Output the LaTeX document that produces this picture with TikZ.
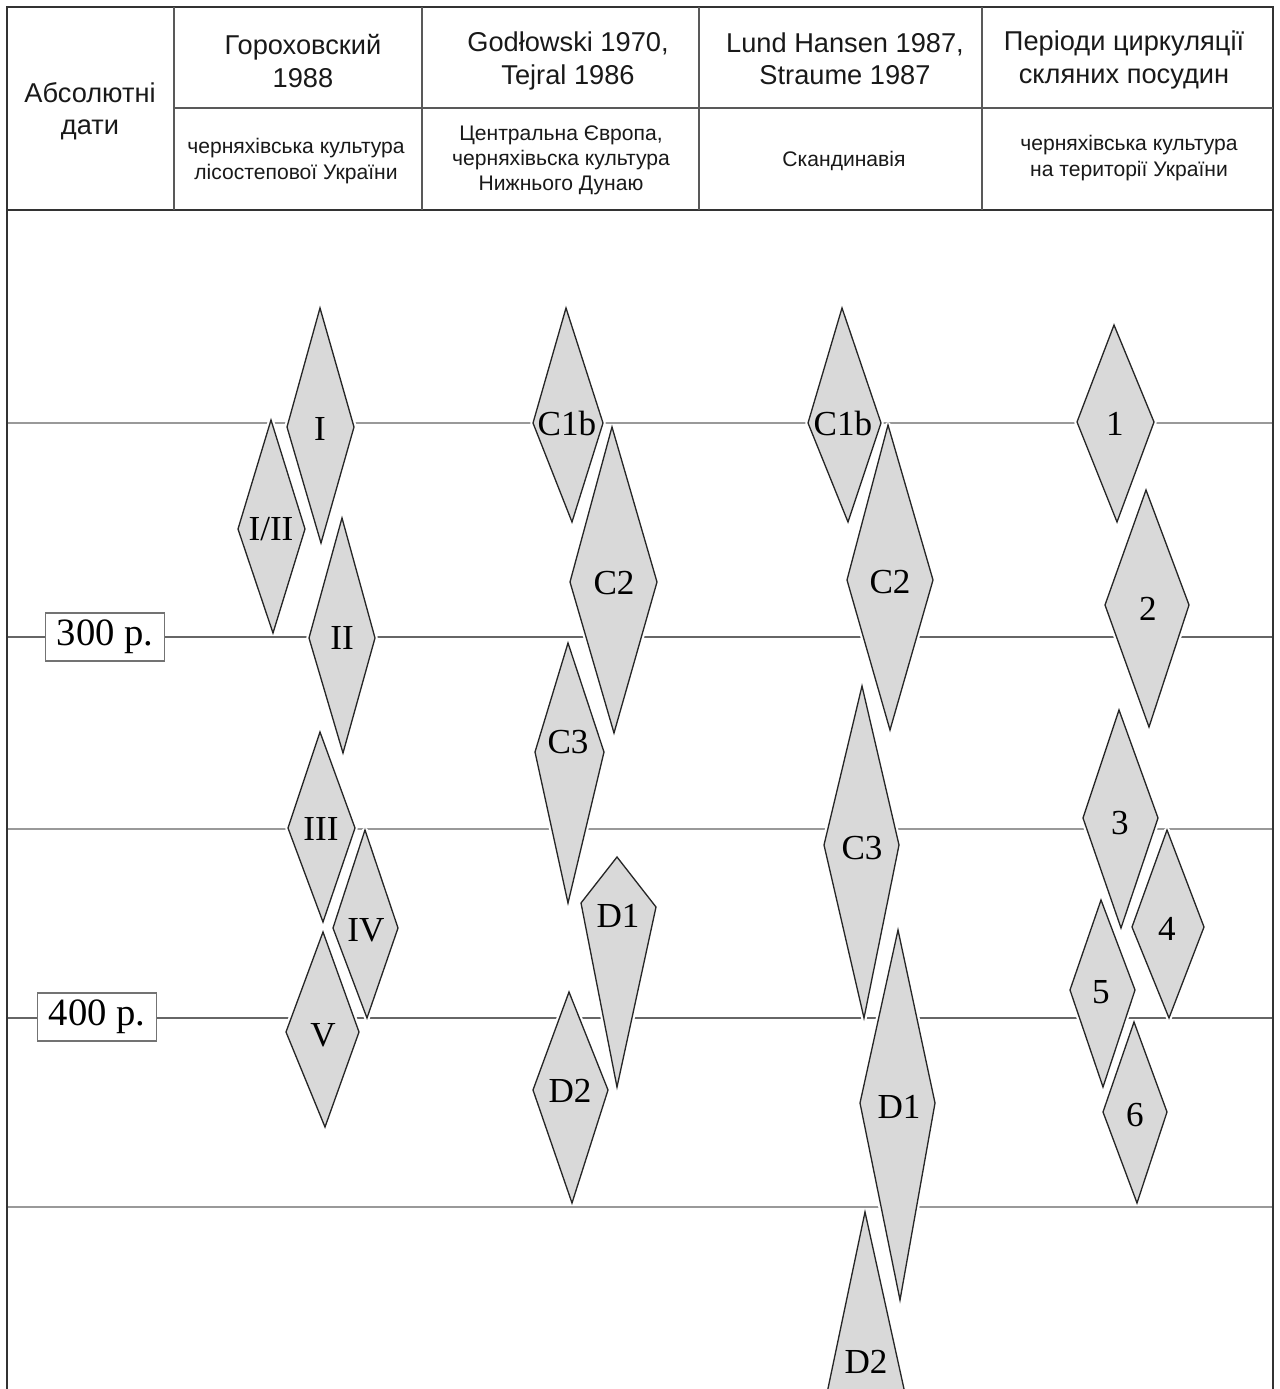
\documentclass[tikz,border=0pt]{standalone}
\usepackage{fontspec}
\setmainfont{Liberation Serif}
\newfontfamily\headfont{Liberation Sans}

\tikzset{
	period/.style={fill=black!15, draw=black!85, line width=0.75pt, line join=miter,
		preaction={draw=white, line width=3.2pt, line join=round}},
	plabel/.style={font=\fontsize{20}{22}\selectfont, inner sep=0pt},
	epoch/.style={draw=black!40, line width=1pt},
	datebox/.style={draw=black!55, fill=white, line width=0.6pt, font=\fontsize{22}{24}\selectfont,
		minimum width=2.38cm, minimum height=0.96cm, inner sep=0pt},
	headtxt/.style={font=\headfont\fontsize{15.5}{18.5}\selectfont, align=center, inner sep=0pt, text=black!90},
	subtxt/.style={font=\headfont\fontsize{12}{14.3}\selectfont, align=center, inner sep=0pt, text=black!90},
}

\begin{document}
\begin{tikzpicture}[x=0.02cm,y=-0.02cm]
	\clip (0,0) rectangle (1279,1389);
	\fill[white] (0,0) rectangle (1279,1389);
	% time lines
	\draw[epoch] (7,423) -- (1273,423);
	\draw[epoch,draw=black!60] (7,637) -- (1273,637);
	\draw[epoch] (7,829) -- (1273,829);
	\draw[epoch,draw=black!60] (7,1018) -- (1273,1018);
	\draw[epoch] (7,1207) -- (1273,1207);
	\node[datebox] (d300) at (105,637) {300 р.};
	\node[datebox] (d400) at (97,1017) {400 р.};
	% header
	\draw[black!80, line width=1.4pt] (7,1389) -- (7,7) -- (1273,7) -- (1273,1389);
	\draw[black!80, line width=1.4pt] (7,210) -- (1273,210);
	\draw[black!65, line width=0.9pt] (174,108) -- (1273,108);
	\draw[black!65, line width=0.9pt] (174,7) -- (174,210) (422,7) -- (422,210) (699,7) -- (699,210) (982,7) -- (982,210);
	\node[headtxt] (hdates) at (90,111) {Абсолютні\\дати};
	\node[headtxt] (hgor) at (303,61) {Гороховский\\1988};
	\node[headtxt] (hgod) at (568,61) {Godłowski 1970,\\Tejral 1986};
	\node[headtxt] (hlund) at (845,59) {Lund Hansen 1987,\\Straume 1987};
	\node[headtxt] (hglass) at (1124,60) {Періоди циркуляції\\скляних посудин};
	\node[subtxt] (sgor) at (296,161) {черняхівська культура\\лісостепової України};
	\node[subtxt] (sgod) at (561,160) {Центральна Європа,\\черняхівьска культура\\Нижнього Дунаю};
	\node[subtxt] (slund) at (844,161) {Скандинавія};
	\node[subtxt] (sglass) at (1129,158) {черняхівська культура\\на території України};
	% Гороховский
	\draw[period] (320,308) -- (354,427) -- (321,543) -- (287,427) -- cycle;
	\node[plabel] (gI) at (320,429) {I};
	\draw[period] (271,420) -- (305,529) -- (273,633) -- (238,529) -- cycle;
	\node[plabel] (gIII) at (271,529) {I/II};
	\draw[period] (342,518) -- (375,638) -- (343,753) -- (309,638) -- cycle;
	\node[plabel] (gII) at (342,638) {II};
	\draw[period] (320,732) -- (355,828) -- (323,922) -- (288,828) -- cycle;
	\node[plabel] (gIIIb) at (321,829) {III};
	\draw[period] (365,830) -- (398,928) -- (367,1018) -- (333,928) -- cycle;
	\node[plabel] (gIV) at (366,930) {IV};
	\draw[period] (323,932) -- (359,1032) -- (325,1127) -- (286,1032) -- cycle;
	\node[plabel] (gV) at (323,1035) {V};
	% Godlowski, Tejral
	\draw[period] (566,308) -- (603,423) -- (572,522) -- (533,423) -- cycle;
	\node[plabel] (tC1b) at (567,423) {C1b};
	\draw[period] (612,427) -- (657,582) -- (614,733) -- (570,582) -- cycle;
	\node[plabel] (tC2) at (614,583) {C2};
	\draw[period] (568,643) -- (604,752) -- (568,903) -- (535,752) -- cycle;
	\node[plabel] (tC3) at (568,742) {C3};
	\draw[period] (617,857) -- (656,907) -- (617,1087) -- (581,903) -- cycle;
	\node[plabel] (tD1) at (618,916) {D1};
	\draw[period] (569,992) -- (608,1090) -- (572,1203) -- (533,1090) -- cycle;
	\node[plabel] (tD2) at (570,1091) {D2};
	% Lund Hansen, Straume
	\draw[period] (842,308) -- (881,423) -- (848,522) -- (808,423) -- cycle;
	\node[plabel] (sC1b) at (843,423) {C1b};
	\draw[period] (888,425) -- (933,580) -- (890,730) -- (847,580) -- cycle;
	\node[plabel] (sC2) at (890,582) {C2};
	\draw[period] (862,686) -- (899,845) -- (864,1018) -- (824,845) -- cycle;
	\node[plabel] (sC3) at (862,848) {C3};
	\draw[period] (898,930) -- (935,1103) -- (900,1300) -- (860,1103) -- cycle;
	\node[plabel] (sD1) at (899,1107) {D1};
	\draw[period] (865,1212) -- (906,1398) -- (868,1570) -- (826,1398) -- cycle;
	\node[plabel] (sD2) at (866,1362) {D2};
	% glass vessels
	\draw[period] (1114,325) -- (1154,422) -- (1117,522) -- (1077,422) -- cycle;
	\node[plabel] (v1) at (1115,424) {1};
	\draw[period] (1146,490) -- (1189,605) -- (1149,727) -- (1105,605) -- cycle;
	\node[plabel] (v2) at (1148,609) {2};
	\draw[period] (1119,710) -- (1158,818) -- (1121,928) -- (1083,818) -- cycle;
	\node[plabel] (v3) at (1120,823) {3};
	\draw[period] (1167,830) -- (1204,927) -- (1169,1018) -- (1132,927) -- cycle;
	\node[plabel] (v4) at (1167,929) {4};
	\draw[period] (1101,900) -- (1135,990) -- (1103,1087) -- (1070,990) -- cycle;
	\node[plabel] (v5) at (1101,992) {5};
	\draw[period] (1134,1022) -- (1167,1112) -- (1137,1203) -- (1103,1112) -- cycle;
	\node[plabel] (v6) at (1135,1115) {6};
\end{tikzpicture}
\end{document}
